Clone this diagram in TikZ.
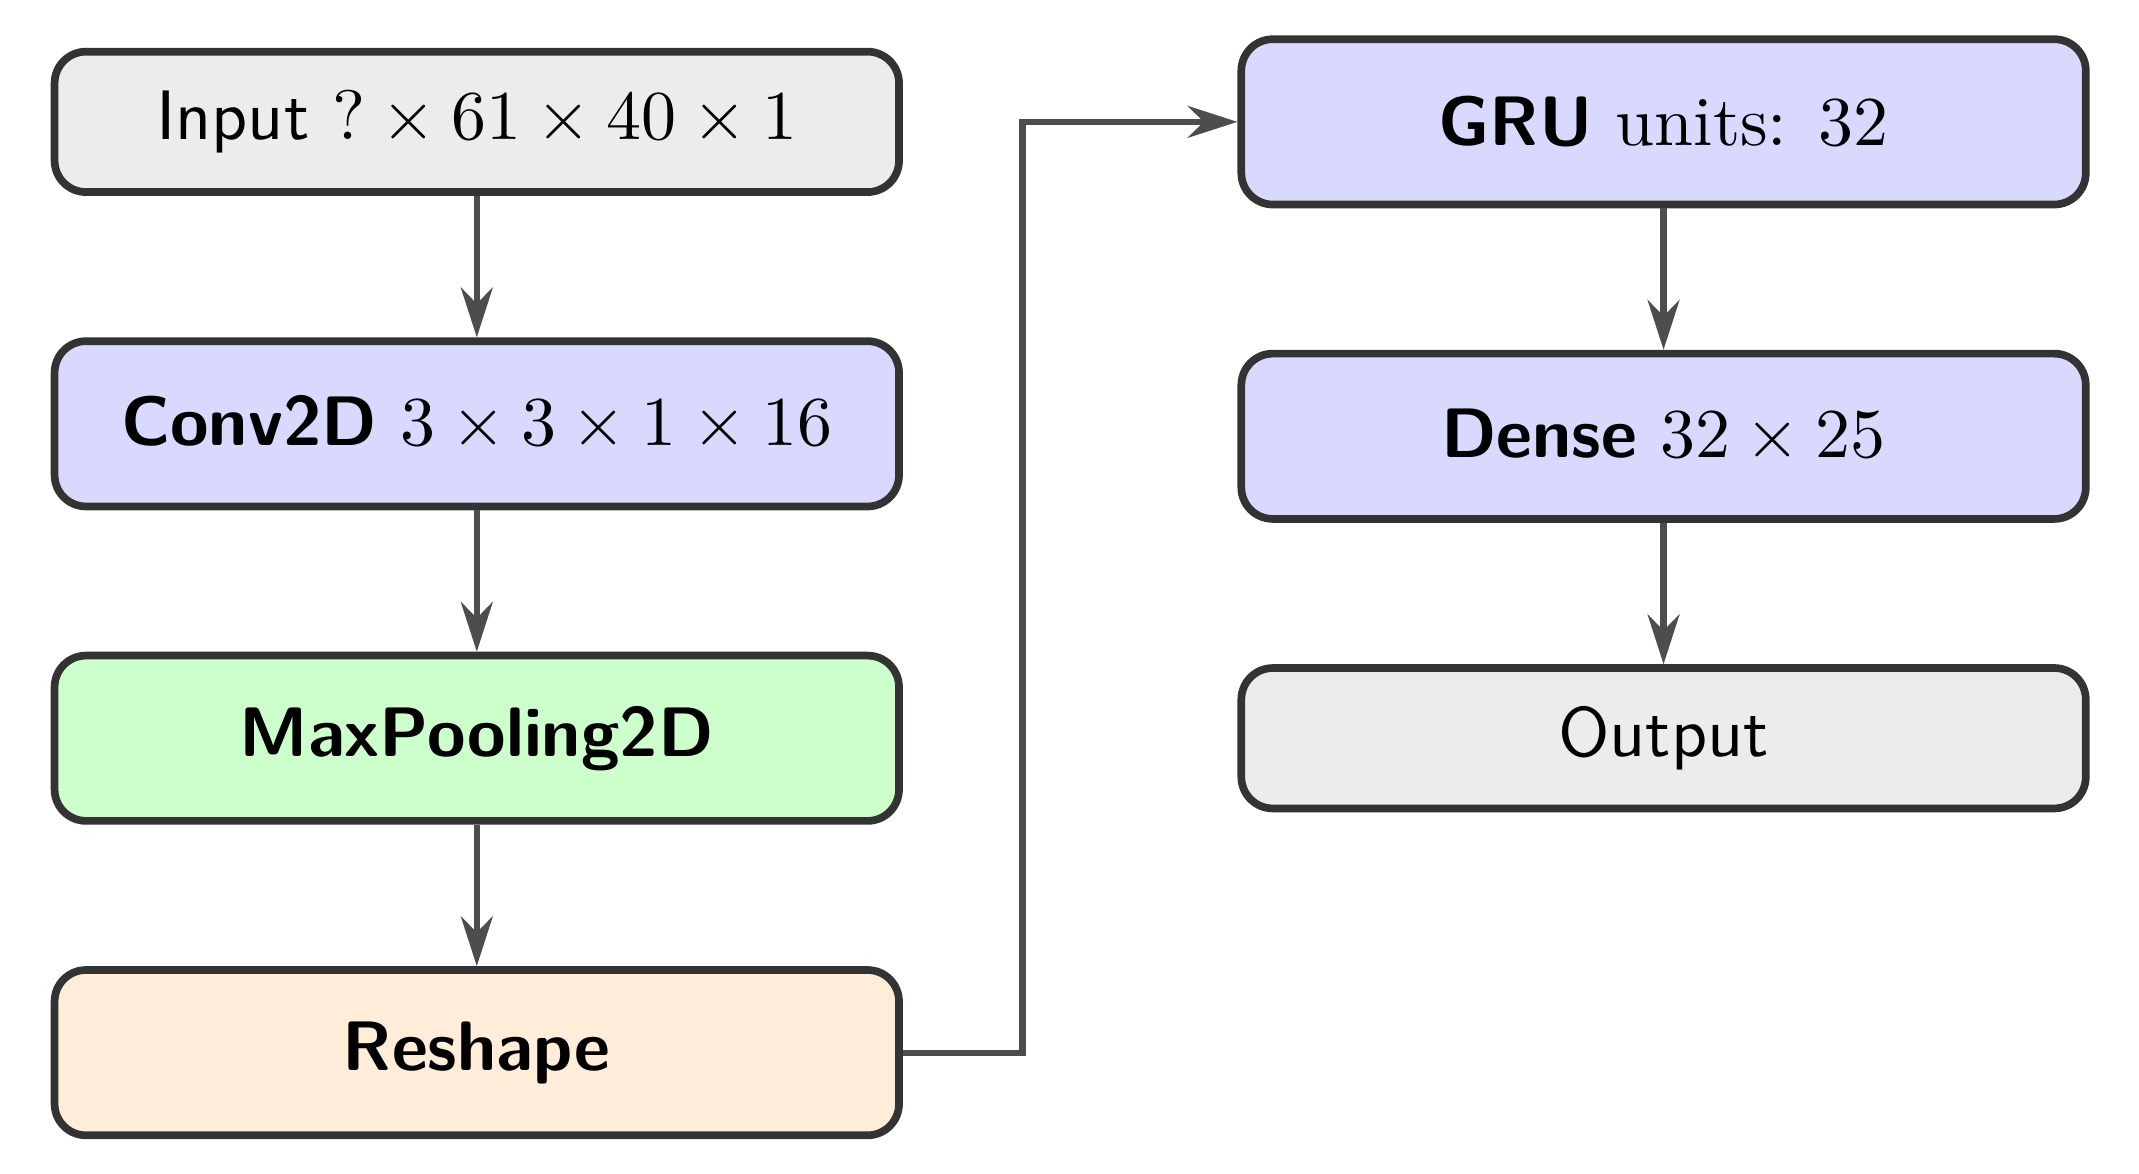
\documentclass[tikz,border=0pt]{standalone}
\usepackage{amsmath}
\usepackage{tikz}
\usetikzlibrary{positioning, arrows.meta}
\definecolor{boxline}{HTML}{333333}
\definecolor{arrline}{HTML}{4D4D4D}

\begin{document}
\begin{tikzpicture}[
    node distance=0.71cm and 1.68cm,
    layer/.style={draw=boxline, line width=1.1pt, rounded corners=4.5pt, minimum width=4.24cm,
                  minimum height=0.83cm, font=\sffamily, align=center},
    io/.style={layer, minimum height=0.705cm, fill=gray!15},
    arr/.style={-{Stealth[length=2.5mm, width=1.6mm]}, line width=0.9pt, arrline},
]
\useasboundingbox (0,0) rectangle (10.74,-5.894);

% Left column: input to reshape
\node[io] (input) at (2.394,-0.612) {Input $? \times 61 \times 40 \times 1$};
\node[layer, fill=blue!15, below=of input] (conv) {\textbf{Conv2D} $3 \times 3 \times 1 \times 16$};
\node[layer, fill=green!20, below=of conv] (pool) {\textbf{MaxPooling2D}};
\node[layer, fill=orange!15, below=of pool] (reshape) {\textbf{Reshape}};

% Right column: recurrent part
\node[layer, fill=blue!15, right=of input] (gru) {\textbf{GRU} \textrm{units:} $32$};
\node[layer, fill=blue!15, below=of gru] (dense) {\textbf{Dense} $32 \times 25$};
\node[io, below=of dense] (output) {Output};

\draw[arr] (input) -- (conv);
\draw[arr] (conv) -- (pool);
\draw[arr] (pool) -- (reshape);
\draw[arr] (reshape.east) -- ++(0.6,0) |- (gru.west);
\draw[arr] (gru) -- (dense);
\draw[arr] (dense) -- (output);

\end{tikzpicture}
\end{document}
